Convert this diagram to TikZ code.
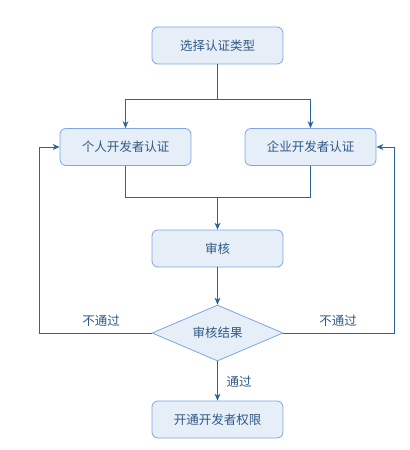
\documentclass[tikz,border=0pt]{standalone}
\usepackage{fontspec}
\setmainfont{Noto Sans CJK SC}
\usetikzlibrary{shapes.geometric,arrows.meta}
\definecolor{boxfill}{HTML}{E6EEF8}
\definecolor{boxline}{HTML}{7EA6E0}
\definecolor{txt}{HTML}{2F5A85}
\definecolor{conn}{HTML}{2A6496}
\tikzset{
  stepbox/.style={draw=boxline, fill=boxfill, rounded corners=6bp, minimum width=131bp, minimum height=37bp, text=txt, font=\fontsize{12.5bp}{14bp}\selectfont, inner sep=0pt, line width=0.8bp},
  decision/.style={diamond, draw=boxline, fill=boxfill, aspect=2.34, minimum width=131bp, minimum height=56bp, inner sep=0pt, text=txt, font=\fontsize{12.5bp}{14bp}\selectfont, line width=0.8bp},
  conn/.style={draw=conn, line width=0.9bp},
  arr/.style={conn, -{Stealth[length=7bp,width=6bp]}},
  lbl/.style={text=txt, font=\fontsize{12.5bp}{14bp}\selectfont, inner sep=0pt}
}
\begin{document}
\begin{tikzpicture}[x=1bp,y=-1bp]
\useasboundingbox (0,0) rectangle (409,450);
\node[stepbox] (sel) at (217.5,45.5) {选择认证类型};
\node[stepbox] (per) at (125.5,147) {个人开发者认证};
\node[stepbox] (ent) at (310.5,147) {企业开发者认证};
\node[stepbox] (rev) at (217.5,248.5) {审核};
\node[decision] (res) at (217.5,333) {审核结果};
\node[stepbox] (open) at (217.5,419.5) {开通开发者权限};
\coordinate (split) at (217.5,99);
\coordinate (join) at (217.5,197.5);
\draw[conn] (sel.south) -- (split);
\draw[arr] (split) -| (per.north);
\draw[arr] (split) -| (ent.north);
\draw[conn] (per.south) |- (join);
\draw[conn] (ent.south) |- (join);
\draw[arr] (join) -- (rev.north);
\draw[arr] (rev.south) -- (res.north);
\draw[arr] (res.west) -- (39.5,333) |- (per.west);
\draw[arr] (res.east) -- (394.5,333) |- (ent.east);
\draw[arr] (res.south) -- (open.north);
\node[lbl] (no1) at (101,321) {不通过};
\node[lbl] (no2) at (338,321) {不通过};
\node[lbl] (yes) at (239,382) {通过};
\end{tikzpicture}
\end{document}
